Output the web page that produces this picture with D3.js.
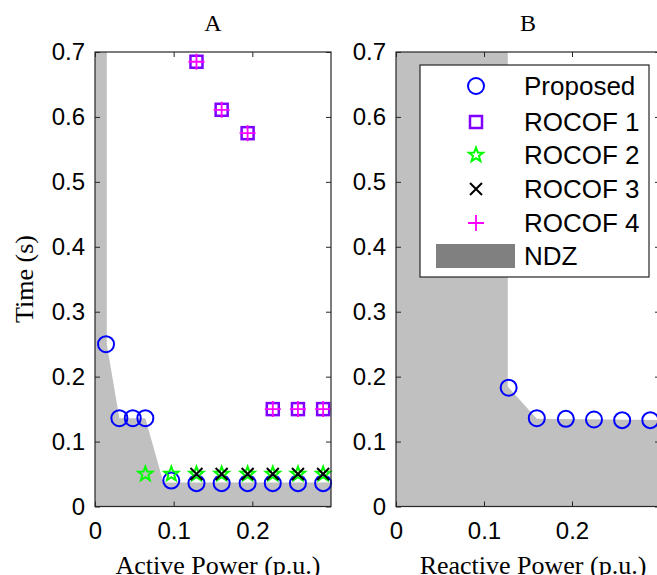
<!DOCTYPE html>
<html>
<head>
<meta charset="utf-8">
<script src="https://cdn.jsdelivr.net/npm/d3@7"></script>
<style>
  body { margin: 0; background: #fff; }
  .tick text { font-family: "Liberation Sans", Arial, sans-serif; font-size: 24px; fill: #000; }
  .serif { font-family: "Liberation Serif", "Times New Roman", serif; font-size: 26px; fill: #000; }
</style>
</head>
<body>
<div id="chart"></div>
<script>
// ---- data ----
// panel A (active power)
var propAx = [0.014, 0.031, 0.048, 0.064, 0.097, 0.129, 0.161, 0.194, 0.226, 0.258, 0.290];
var propAy = [0.25, 0.136, 0.136, 0.136, 0.04, 0.036, 0.036, 0.036, 0.036, 0.036, 0.036];
var rocof1x = [0.129, 0.161, 0.194, 0.226, 0.258, 0.290];
var rocof1y = [0.685, 0.611, 0.575, 0.15, 0.15, 0.15];
var rocof2x = [0.064, 0.097, 0.129, 0.161, 0.194, 0.226, 0.258, 0.290];
var rocof2y = [0.05, 0.05, 0.05, 0.05, 0.05, 0.05, 0.05, 0.05];
var rocof3x = [0.129, 0.161, 0.194, 0.226, 0.258, 0.290];
var rocof3y = [0.05, 0.05, 0.05, 0.05, 0.05, 0.05];
var rocof4x = [0.129, 0.161, 0.194, 0.226, 0.258, 0.290];
var rocof4y = [0.685, 0.611, 0.575, 0.15, 0.15, 0.15];
var ndzAx = [0, 0.015, 0.015, 0.031, 0.064, 0.087, 0.3, 0.3, 0];
var ndzAy = [0.7, 0.7, 0.25, 0.136, 0.136, 0.037, 0.037, 0, 0];

// panel B (reactive power)
var propBx = [0.128, 0.160, 0.193, 0.225, 0.257, 0.289];
var propBy = [0.183, 0.136, 0.135, 0.134, 0.133, 0.133];
var ndzBx = [0, 0.127, 0.127, 0.160, 0.3, 0.3, 0];
var ndzBy = [0.7, 0.7, 0.185, 0.135, 0.133, 0, 0];

var xTicks = [0, 0.1, 0.2];
var yTicks = [0, 0.1, 0.2, 0.3, 0.4, 0.5, 0.6, 0.7];
var legendNames = ["Proposed", "ROCOF 1", "ROCOF 2", "ROCOF 3", "ROCOF 4", "NDZ"];

var zip = function(xs, ys) { return xs.map(function(x, i) { return [x, ys[i]]; }); };

// ---- svg ----
var svgWidth = 657, svgHeight = 575;
var svg = d3.select("#chart").append("svg")
    .attr("width", svgWidth)
    .attr("height", svgHeight);

var plotTop = 52, plotBottom = 506.5;
var yScale = d3.scaleLinear().domain([0, 0.7]).range([plotBottom, plotTop]);

// marker helpers
function starPath(R) {
    var r = R * 0.42, pts = [];
    for (var i = 0; i < 10; i++) {
        var a = -Math.PI / 2 + i * Math.PI / 5;
        var rr = i % 2 === 0 ? R : r;
        pts.push([rr * Math.cos(a), rr * Math.sin(a)]);
    }
    return "M" + pts.map(function(p) { return p.join(","); }).join("L") + "Z";
}
function drawCircle(g, x, y) {
    g.append("circle").attr("cx", x).attr("cy", y).attr("r", 8)
        .attr("fill", "none").attr("stroke", "#0000ff").attr("stroke-width", 2);
}
function drawSquare(g, x, y) {
    g.append("rect").attr("x", x - 6).attr("y", y - 6).attr("width", 12).attr("height", 12)
        .attr("fill", "none").attr("stroke", "#8000ff").attr("stroke-width", 2.5);
}
function drawStar(g, x, y) {
    g.append("path").attr("d", starPath(7.5)).attr("transform", "translate(" + x + "," + y + ")")
        .attr("fill", "none").attr("stroke", "#00ff00").attr("stroke-width", 2);
}
function drawTimes(g, x, y) {
    g.append("path").attr("d", "M-6,-6L6,6M-6,6L6,-6").attr("transform", "translate(" + x + "," + y + ")")
        .attr("fill", "none").attr("stroke", "#000").attr("stroke-width", 2);
}
function drawPlus(g, x, y) {
    g.append("path").attr("d", "M-8,0L8,0M0,-8L0,8").attr("transform", "translate(" + x + "," + y + ")")
        .attr("fill", "none").attr("stroke", "#ff00ff").attr("stroke-width", 1.8);
}

function panel(left, right, title, xLabel) {
    var xScale = d3.scaleLinear().domain([0, 0.3]).range([left, right]);
    var g = svg.append("g");
    return { g: g, x: xScale, title: title, xLabel: xLabel, left: left, right: right };
}

function frame(p) {
    var g = p.g;
    // box
    g.append("rect").attr("x", p.left).attr("y", plotTop)
        .attr("width", p.right - p.left).attr("height", plotBottom - plotTop)
        .attr("fill", "none").attr("stroke", "#262626").attr("stroke-width", 1.2);
    // axes with inward ticks
    g.append("g").attr("transform", "translate(0," + plotBottom + ")")
        .call(d3.axisBottom(p.x).tickValues(xTicks).tickSize(-5).tickPadding(15).tickFormat(d3.format("")))
        .call(function(a) { a.select(".domain").remove(); });
    g.append("g").attr("transform", "translate(0," + plotTop + ")")
        .call(d3.axisTop(p.x).tickValues(xTicks).tickSize(-5).tickFormat(""))
        .call(function(a) { a.select(".domain").remove(); });
    g.append("g").attr("transform", "translate(" + p.left + ",0)")
        .call(d3.axisLeft(yScale).tickValues(yTicks).tickSize(-5).tickPadding(10).tickFormat(d3.format("")))
        .call(function(a) { a.select(".domain").remove(); });
    g.append("g").attr("transform", "translate(" + p.right + ",0)")
        .call(d3.axisRight(yScale).tickValues(yTicks).tickSize(-5).tickFormat(""))
        .call(function(a) { a.select(".domain").remove(); });
    g.selectAll(".tick line").attr("stroke", "#262626");

    g.append("text").attr("class", "serif")
        .attr("x", (p.left + p.right) / 2).attr("y", 31)
        .attr("text-anchor", "middle").style("font-size", "24px").text(p.title);
    g.append("text").attr("class", "serif")
        .attr("x", (p.left + p.right) / 2 + 5).attr("y", 574)
        .attr("text-anchor", "middle").text(p.xLabel);
}

function ndz(p, xs, ys) {
    var line = d3.line().x(function(d) { return p.x(d[0]); }).y(function(d) { return yScale(d[1]); });
    p.g.append("path").attr("d", line(zip(xs, ys)) + "Z").attr("fill", "#c0c0c0");
}

// ---- panel A ----
var pA = panel(95, 331, "A", "Active Power (p.u.)");
ndz(pA, ndzAx, ndzAy);
zip(propAx, propAy).forEach(function(d) { drawCircle(pA.g, pA.x(d[0]), yScale(d[1])); });
zip(rocof1x, rocof1y).forEach(function(d) { drawSquare(pA.g, pA.x(d[0]), yScale(d[1])); });
zip(rocof2x, rocof2y).forEach(function(d) { drawStar(pA.g, pA.x(d[0]), yScale(d[1])); });
zip(rocof3x, rocof3y).forEach(function(d) { drawTimes(pA.g, pA.x(d[0]), yScale(d[1])); });
zip(rocof4x, rocof4y).forEach(function(d) { drawPlus(pA.g, pA.x(d[0]), yScale(d[1])); });
frame(pA);

// ---- panel B ----
var pB = panel(396, 660, "B", "Reactive Power (p.u.)");
ndz(pB, ndzBx, ndzBy);
zip(propBx, propBy).forEach(function(d) { drawCircle(pB.g, pB.x(d[0]), yScale(d[1])); });
frame(pB);

// y label
svg.append("text").attr("class", "serif")
    .attr("transform", "translate(33,279) rotate(-90)")
    .attr("text-anchor", "middle").text("Time (s)");

// ---- legend ----
var leg = svg.append("g");
leg.append("rect").attr("x", 420).attr("y", 65).attr("width", 229).attr("height", 212)
    .attr("fill", "#fff").attr("stroke", "#262626").attr("stroke-width", 1.2);
var rowY = [86, 122, 155, 189, 223, 256];
var drawers = [drawCircle, drawSquare, drawStar, drawTimes, drawPlus];
legendNames.forEach(function(name, i) {
    if (i < 5) drawers[i](leg, 476, rowY[i]);
    else leg.append("rect").attr("x", 436).attr("y", 244).attr("width", 79).attr("height", 24).attr("fill", "#808080");
    leg.append("text").attr("x", 524).attr("y", rowY[i]).attr("dy", "0.36em")
        .style("font-family", "'Liberation Sans', Arial, sans-serif").style("font-size", "26px")
        .text(name);
});
</script>
</body>
</html>
